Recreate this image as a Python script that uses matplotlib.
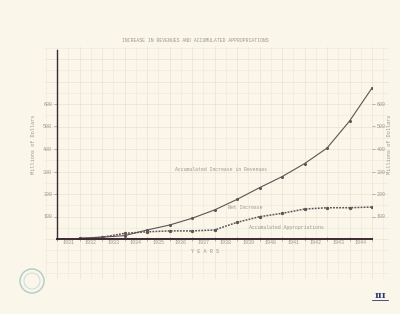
import matplotlib
matplotlib.use("Agg")
import matplotlib.pyplot as plt
from matplotlib.patches import Circle

years = [1931, 1932, 1933, 1934, 1935, 1936, 1937, 1938, 1939, 1940, 1941, 1942, 1943, 1944]
revenue_increase = [3, 8, 15, 40, 62, 92, 129, 176, 228, 277, 335, 404, 524, 671]
appropriations = [3, 8, 25, 32, 36, 36, 40, 74, 99, 114, 133, 139, 139, 142]
y_ticks = [100, 200, 300, 400, 500, 600]

title = "INCREASE IN REVENUES AND ACCUMULATED APPROPRIATIONS"
mono = ["Liberation Mono", "DejaVu Sans Mono"]
paper = "#faf6ea"
ink = "#9d978a"
line_col = "#5e5355"
axis_col = "#3b2a33"
grid_minor = "#efeadb"
grid_major = "#e8e2cf"

fig = plt.figure(figsize=(4.0, 3.14), dpi=100)
fig.patch.set_facecolor(paper)

# background graph paper
bg = fig.add_axes([0, 0, 1, 1])
bg.set_xlim(0, 400)
bg.set_ylim(314, 0)
bg.axis("off")
x0, x1, y0, y1 = 45, 388, 47, 278
k = 0
while 57 + 11.25 * k <= x1:
    x = 57 + 11.25 * k
    bg.plot([x, x], [y0, y1], color=grid_minor if k % 2 else grid_major, lw=0.5, zorder=0)
    k += 1
k = 1
while 57 - 11.25 * k >= x0:
    x = 57 - 11.25 * k
    bg.plot([x, x], [y0, y1], color=grid_minor, lw=0.5, zorder=0)
    k += 1
k = 0
while 239 - 11.25 * k >= y0:
    y = 239 - 11.25 * k
    bg.plot([x0, x1], [y, y], color=grid_minor if k % 2 else grid_major, lw=0.5, zorder=0)
    k += 1
k = 1
while 239 + 11.25 * k <= y1:
    y = 239 + 11.25 * k
    bg.plot([x0, x1], [y, y], color=grid_minor, lw=0.5, zorder=0)
    k += 1

# faint stamp and page mark
bg.add_patch(Circle((32, 281), 12, fill=False, ec="#9cc2be", lw=1.0, alpha=0.8))
bg.add_patch(Circle((32, 281), 8, fill=False, ec="#b5d2ce", lw=0.6, alpha=0.8))
bg.text(380, 296, "III", fontsize=6, color="#2a3470", ha="center", va="center",
        fontweight="bold", family="DejaVu Serif")
bg.plot([372, 388], [300, 300], color="#2a3470", lw=0.6)

ax = fig.add_axes([57 / 400, (314 - 239) / 314, (372 - 57) / 400, (239 - 50) / 314])
ax.patch.set_alpha(0)
ax.set_xlim(1930, 1944)
ax.set_ylim(0, 840)

ax.plot(years, revenue_increase, color=line_col, lw=0.8, marker="o", ms=1.2)
ax.plot(years, appropriations, color=line_col, lw=1.1, ls=(0, (1.2, 0.8)), marker="o", ms=1.4)

for s in ["top", "right"]:
    ax.spines[s].set_visible(False)
ax.spines["left"].set_color(axis_col)
ax.spines["bottom"].set_color(axis_col)
ax.spines["left"].set_linewidth(1.0)
ax.spines["bottom"].set_linewidth(1.4)

ax.set_xticks(range(1930, 1945))
ax.set_xticklabels([])
ax.tick_params(axis="x", length=3, width=0.5, color=ink, direction="inout")
for yr in years:
    ax.text(yr - 0.5, -17, str(yr), fontsize=3.6, family=mono, color=ink,
            ha="center", va="center")

ax.set_yticks(y_ticks)
ax.set_yticklabels([str(v) for v in y_ticks], fontsize=3.6, family=mono, color=ink)
ax.tick_params(axis="y", length=2, width=0.5, color=ink, pad=1.5)

ax2 = ax.twinx()
ax2.set_ylim(0, 840)
for s in ["top", "right", "left", "bottom"]:
    ax2.spines[s].set_visible(False)
ax2.set_yticks(y_ticks)
ax2.set_yticklabels([str(v) for v in y_ticks], fontsize=3.6, family=mono, color=ink)
ax2.tick_params(axis="y", length=2, width=0.5, color=ink, pad=1.5)

ax.set_ylabel("Millions of Dollars", fontsize=3.8, family=mono, color=ink, labelpad=5)
ax2.set_ylabel("Millions of Dollars", fontsize=3.8, family=mono, color=ink, labelpad=1)

ax.text(1936.6, -56, "Y E A R S", fontsize=3.8, family=mono, color=ink, ha="center", va="center")

ax.text(1937.3, 311, "Accumulated Increase in Revenues", fontsize=3.5, family=mono,
        color=ink, ha="center", va="center")
ax.text(1938.35, 142, "Net Increase", fontsize=3.5, family=mono, color=ink,
        ha="center", va="center")
ax.text(1940.2, 53, "Accumulated Appropriations", fontsize=3.5, family=mono, color=ink,
        ha="center", va="center")

fig.text(195 / 400, 1 - 41 / 314, title, fontsize=3.4, family=mono, color=ink,
         ha="center", va="center")

fig.savefig("out.png", dpi=100, facecolor=paper)
